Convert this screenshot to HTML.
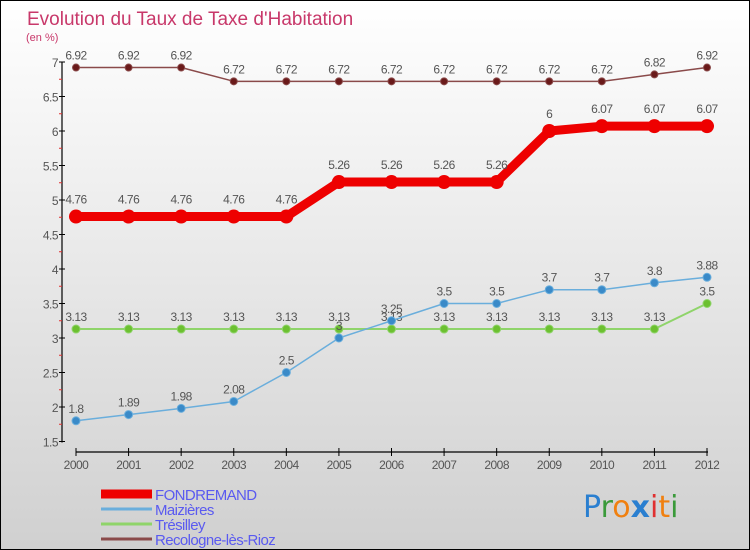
<!DOCTYPE html>
<html><head><meta charset="utf-8">
<style>
html,body{margin:0;padding:0}
body{width:750px;height:550px;overflow:hidden;font-family:"Liberation Sans",sans-serif}
#wrap{position:relative;width:748px;height:548px;border:1px solid #000;background:linear-gradient(#ffffff,#d0d0d0)}
</style></head><body>
<div id="wrap">
<svg id="chart" width="748" height="548" style="position:absolute;left:0;top:0">
<text x="26" y="24" font-size="19" fill="#c8386a">Evolution du Taux de Taxe d'Habitation</text>
<text x="25" y="40" font-size="11" fill="#c8386a">(en %)</text>
<g id="axes"></g>
<g id="series"></g>
<g id="legend"></g>
<text x="582" y="516" font-size="30" font-family="'DejaVu Sans',sans-serif"><tspan fill="#2a7fd0">P</tspan><tspan fill="#3a9a3a">r</tspan><tspan fill="#f08010">o</tspan><tspan fill="#2a7fd0" font-weight="bold">x</tspan><tspan fill="#e03030">i</tspan><tspan fill="#f08010">t</tspan><tspan fill="#3a9a3a">i</tspan></text>
</svg>
</div>
<script>
const years=[2000,2001,2002,2003,2004,2005,2006,2007,2008,2009,2010,2011,2012];
const fondremand=[4.76,4.76,4.76,4.76,4.76,5.26,5.26,5.26,5.26,6,6.07,6.07,6.07];
const maizieres=[1.8,1.89,1.98,2.08,2.5,3,3.25,3.5,3.5,3.7,3.7,3.8,3.88];
const tresilley=[3.13,3.13,3.13,3.13,3.13,3.13,3.13,3.13,3.13,3.13,3.13,3.13,3.5];
const recologne=[6.92,6.92,6.92,6.72,6.72,6.72,6.72,6.72,6.72,6.72,6.72,6.82,6.92];
const yTicks=[1.5,2,2.5,3,3.5,4,4.5,5,5.5,6,6.5,7];
const seriesNames=["FONDREMAND","Maizières","Trésilley","Recologne-lès-Rioz"];

const NS="http://www.w3.org/2000/svg";
const X=i=>75+i*(706-75)/(years.length-1);
const Y=v=>61+(7-v)*69;
function mk(tag,attrs,parent){const e=document.createElementNS(NS,tag);for(const k in attrs)e.setAttribute(k,attrs[k]);parent.appendChild(e);return e;}
const axes=document.getElementById('axes');
let a=mk('line',{x1:61,y1:Y(7),x2:61,y2:Y(1.5)+1,stroke:'#000','stroke-width':1.2},axes);


yTicks.forEach(v=>{
  let t=mk('line',{x1:58,y1:Y(v),x2:64,y2:Y(v),stroke:'#000'},axes);
  
  
  let l=mk('text',{x:57,y:Y(v)+5,'font-size':12,fill:'#555','text-anchor':'end','letter-spacing':'-0.5'},axes);
  l.textContent=String(v);
  
  
  if(v<7){let m=mk('line',{x1:58,y1:Y(v+0.25),x2:61,y2:Y(v+0.25),stroke:'#e03030'},axes);
  
  }
});
let xa=mk('line',{x1:75,y1:451,x2:707,y2:451,stroke:'#000','stroke-width':1.2},axes);


years.forEach((yr,i)=>{
  let t=mk('line',{x1:X(i),y1:447,x2:X(i),y2:455,stroke:'#000'},axes);
  
  
  let l=mk('text',{x:X(i),y:468,'font-size':12,fill:'#555','text-anchor':'middle','letter-spacing':'-0.5'},axes);
  l.textContent=String(yr);
  
  
});
const ser=document.getElementById('series');
function draw(vals,color,dot,w,r,name,labelOff){
  const g=mk('g',{},ser);
  
  
  let p=mk('polyline',{points:vals.map((v,i)=>X(i)+','+Y(v)).join(' '),fill:'none',stroke:color,'stroke-width':w,'stroke-linejoin':'round'},g);
  
  
  vals.forEach((v,i)=>{
    let c=mk('circle',{cx:X(i),cy:Y(v),r:r,fill:dot,stroke:color==dot?'none':color,'stroke-width':1},g);
    
    
    let t=mk('text',{x:X(i),y:Y(v)-labelOff,'font-size':12,fill:'#555','text-anchor':'middle','letter-spacing':'-0.5'},g);
    t.textContent=String(v);
    
    
  });
}
draw(tresilley,'#8fd46a','#6cc030',2,4,'tresilley',8);
draw(maizieres,'#6aaedc','#3a8ac8',1.5,4,'maizieres',8);
draw(recologne,'#8a4a4a','#6a1a1a',1.5,3.5,'recologne',8);
draw(fondremand,'#ee0000','#ee0000',9,7,'fondremand',13);
const leg=document.getElementById('legend');
const legColors=['#ee0000','#6aaedc','#8fd46a','#8a4a4a'];
const legW=[9,3,3,3];
seriesNames.forEach((n,i)=>{
  const y=493+i*15;
  let l=mk('line',{x1:100,y1:y,x2:151,y2:y,stroke:legColors[i],'stroke-width':legW[i]},leg);
  
  
  let t=mk('text',{x:154,y:y+6,'font-size':15,fill:'#5a5af0','letter-spacing':'-0.6'},leg);
  t.textContent=n;
  
  
});
</script>
</body></html>
